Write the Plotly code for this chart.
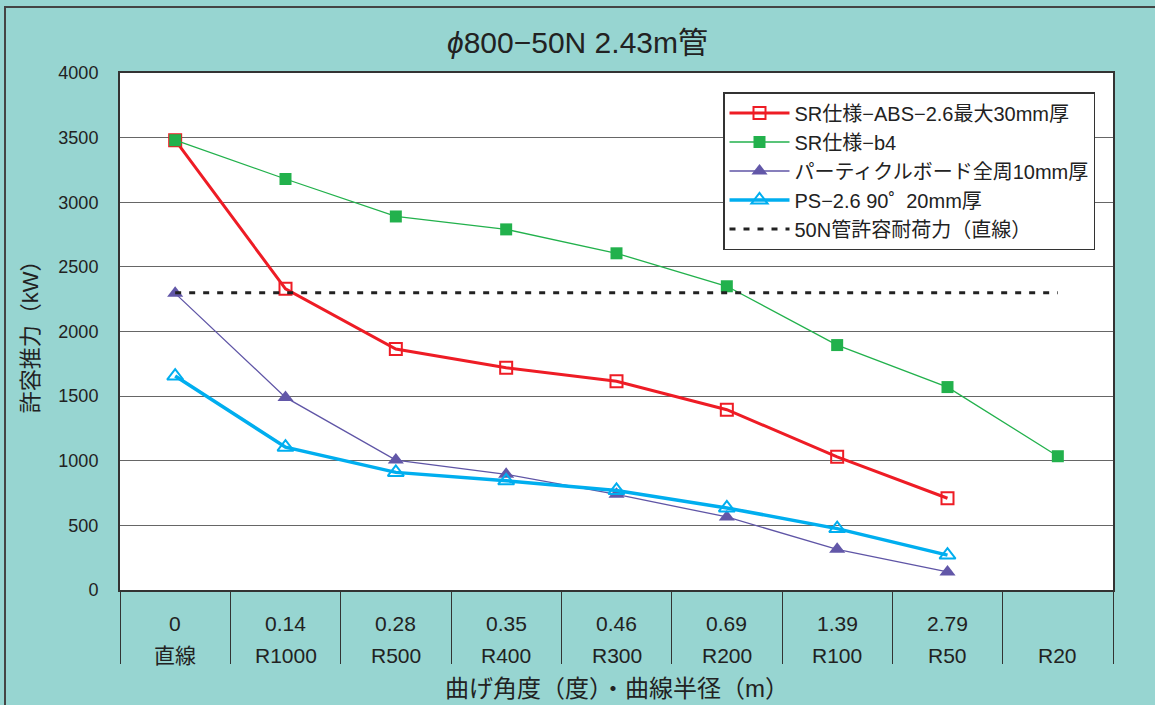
import plotly.graph_objects as go

categories = ["直線", "R1000", "R500", "R400", "R300", "R200", "R100", "R50", "R20"]
angles = ["0", "0.14", "0.28", "0.35", "0.46", "0.69", "1.39", "2.79", ""]

sr_abs = [3480, 2330, 1865, 1720, 1615, 1395, 1030, 710, None]
sr_b4 = [3480, 3180, 2890, 2790, 2605, 2350, 1895, 1570, 1035]
particle = [2295, 1490, 1005, 895, 740, 565, 315, 140, None]
ps26 = [1655, 1105, 910, 845, 770, 635, 475, 270, None]
allow_50n = [2300] * 9

names = [
    "SR仕様−ABS−2.6最大30mm厚",
    "SR仕様−b4",
    "パーティクルボード全周10mm厚",
    "PS−2.6 90˚  20mm厚",
    "50N管許容耐荷力（直線）",
]

FONT = "Liberation Sans, Noto Sans CJK JP, sans-serif"
TEAL = "#97D5D1"
TXT = "#222222"

fig = go.Figure()
fig.add_trace(go.Scatter(
    x=categories, y=sr_abs, name=names[0], mode="lines+markers",
    line=dict(color="#EE1C25", width=3),
    marker=dict(symbol="square-open", size=12, color="#EE1C25", line=dict(width=2)),
))
fig.add_trace(go.Scatter(
    x=categories, y=sr_b4, name=names[1], mode="lines+markers",
    line=dict(color="#22B14C", width=1.3),
    marker=dict(symbol="square", size=12, color="#22B14C"),
))
fig.add_trace(go.Scatter(
    x=categories, y=particle, name=names[2], mode="lines+markers",
    line=dict(color="#5F55A6", width=1.3),
    marker=dict(symbol="triangle-up", size=14, color="#6257A8"),
))
fig.add_trace(go.Scatter(
    x=categories, y=ps26, name=names[3], mode="lines+markers",
    line=dict(color="#00AEEF", width=3.5),
    marker=dict(symbol="triangle-up-open", size=14, color="#00AEEF", line=dict(width=2)),
))
fig.add_trace(go.Scatter(
    x=categories, y=allow_50n, name=names[4], mode="lines",
    line=dict(color="#222222", width=3, dash="6px,8px"),
))

# two-row category labels: bend angle (upper), curve radius (lower)
for c, a in zip(categories, angles):
    if a:
        fig.add_annotation(x=c, xref="x", y=0, yref="paper", yshift=-33,
                           text=a, showarrow=False, yanchor="middle",
                           font=dict(size=21, color=TXT, family=FONT))
    fig.add_annotation(x=c, xref="x", y=0, yref="paper", yshift=-65,
                       text=c, showarrow=False, yanchor="middle",
                       font=dict(size=21, color=TXT, family=FONT))

fig.add_annotation(x=0.5, xref="paper", y=0, yref="paper", yshift=-98,
                   text="曲げ角度（度）・曲線半径（m）", showarrow=False,
                   yanchor="middle", font=dict(size=24, color=TXT, family=FONT))

fig.update_layout(
    width=1155, height=705,
    margin=dict(l=120, r=42, t=73, b=115),
    paper_bgcolor=TEAL, plot_bgcolor="white",
    font=dict(family=FONT, color=TXT, size=18),
    title=dict(text="<i>ϕ</i>800−50N 2.43m管", x=0.5, xanchor="center",
               y=1 - 42 / 705, yanchor="middle", font=dict(size=30, color=TXT)),
    showlegend=True,
    legend=dict(x=(723 - 120) / 993, y=1 - 19 / 517, xanchor="left", yanchor="top",
                bgcolor="white", bordercolor="#333333", borderwidth=1.5,
                font=dict(size=20, color=TXT), itemwidth=60,
                tracegroupgap=0),
    xaxis=dict(
        type="category", categoryorder="array", categoryarray=categories,
        range=[-0.5, len(categories) - 0.5],
        tickmode="array", tickvals=categories, showticklabels=False,
        tickson="boundaries", ticks="outside", ticklen=72, tickcolor="#333333",
        tickwidth=1,
        showline=True, linecolor="#333333", linewidth=2, mirror=True,
        showgrid=False, zeroline=False,
    ),
    yaxis=dict(
        range=[0, 4000], dtick=500, tick0=0,
        showgrid=True, gridcolor="#666666", gridwidth=1.2,
        showline=True, linecolor="#333333", linewidth=2, mirror=True,
        zeroline=False, ticks="", ticklabelstandoff=16,
        tickfont=dict(size=18, color=TXT),
        title=dict(text="許容推力（kW）", standoff=14,
                   font=dict(size=22, color=TXT)),
    ),
)

# figure frame
fig.add_shape(type="rect", xref="paper", yref="paper",
              x0=-115 / 993, x1=1.2, y0=-0.3, y1=1 + 66 / 517,
              line=dict(color="#444444", width=2), fillcolor="rgba(0,0,0,0)",
              layer="above")

fig.write_html("out.html", config={"displayModeBar": False},
               post_script="document.body.style.margin='0px';")
